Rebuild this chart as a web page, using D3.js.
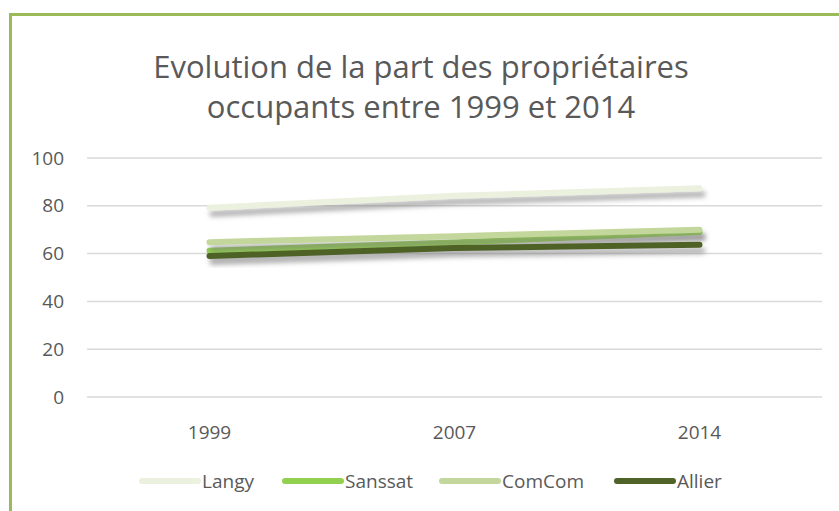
<!DOCTYPE html>
<html>
<head>
<meta charset="utf-8">
<script src="https://cdn.jsdelivr.net/npm/d3@7"></script>
<style>
  body { margin: 0; background: #fff; }
  text { font-family: "Open Sans", sans-serif; fill: #595959; }
</style>
</head>
<body>
<svg id="chart" width="839" height="511"></svg>
<script>
var years = ["1999", "2007", "2014"];
var seriesNames = ["Langy", "Sanssat", "ComCom", "Allier"];
var langy = [79.2, 84.2, 87.3];
var sanssat = [61.2, 64.6, 69.0];
var comcom = [64.8, 67.3, 70.0];
var allier = [59.0, 62.3, 63.7];
var yTicks = [0, 20, 40, 60, 80, 100];
var colors = ["#EBF1DE", "#92D050", "#C3D69B", "#4F6228"];

var allSeries = [langy, sanssat, comcom, allier];

var svg = d3.select("#chart");

// shadow filter
var defs = svg.append("defs");
var f = defs.append("filter").attr("id", "shadow")
    .attr("x", "-10%").attr("y", "-50%").attr("width", "130%").attr("height", "250%");
f.append("feOffset").attr("in", "SourceAlpha").attr("dx", 3).attr("dy", 6).attr("result", "off");
f.append("feGaussianBlur").attr("in", "off").attr("stdDeviation", 2.5).attr("result", "blur");
f.append("feFlood").attr("flood-color", "#7a7a7a").attr("flood-opacity", 0.6);
f.append("feComposite").attr("in2", "blur").attr("operator", "in").attr("result", "sh");
var m = f.append("feMerge");
m.append("feMergeNode").attr("in", "sh");
m.append("feMergeNode").attr("in", "SourceGraphic");

// frame
svg.append("line").attr("x1", 9).attr("x2", 839).attr("y1", 14.5).attr("y2", 14.5)
    .attr("stroke", "#9BBB59").attr("stroke-width", 3);
svg.append("line").attr("x1", 10.5).attr("x2", 10.5).attr("y1", 13).attr("y2", 511)
    .attr("stroke", "#9BBB59").attr("stroke-width", 3);

// title
var title = svg.append("text").attr("text-anchor", "middle").attr("font-size", 31);
title.append("tspan").attr("x", 421).attr("y", 78).text("Evolution de la part des propriétaires");
title.append("tspan").attr("x", 421).attr("y", 118).text("occupants entre 1999 et 2014");

var x = d3.scaleBand().domain(years).range([87, 822]);
var y = d3.scaleLinear().domain([0, 100]).range([397, 158]);

// grid
svg.append("g").selectAll("line").data(yTicks).enter().append("line")
    .attr("x1", 87).attr("x2", 822)
    .attr("y1", function (d) { return y(d); })
    .attr("y2", function (d) { return y(d); })
    .attr("stroke", "#D9D9D9").attr("stroke-width", 1.5);

// y labels
svg.append("g").selectAll("text").data(yTicks).enter().append("text")
    .attr("x", 64).attr("y", function (d) { return y(d); })
    .attr("dy", "0.35em").attr("text-anchor", "end").attr("font-size", 19)
    .text(function (d) { return d; });

// x labels
svg.append("g").selectAll("text").data(years).enter().append("text")
    .attr("x", function (d) { return x(d) + x.bandwidth() / 2; })
    .attr("y", 439).attr("text-anchor", "middle").attr("font-size", 19)
    .text(function (d) { return d; });

// lines
var line = d3.line()
    .x(function (d, i) { return x(years[i]) + x.bandwidth() / 2; })
    .y(function (d) { return y(d); });

svg.append("g").selectAll("path").data(allSeries).enter().append("path")
    .attr("d", line)
    .attr("fill", "none")
    .attr("stroke", function (d, i) { return colors[i]; })
    .attr("stroke-width", 6)
    .attr("stroke-linecap", "round")
    .attr("stroke-linejoin", "round")
    .attr("filter", "url(#shadow)");

// legend
var legX = [142, 285, 442, 617];
var leg = svg.append("g").selectAll("g").data(seriesNames).enter().append("g")
    .attr("transform", function (d, i) { return "translate(" + legX[i] + ",481)"; });
leg.append("line").attr("x1", 0).attr("x2", 56)
    .attr("stroke", function (d, i) { return colors[i]; })
    .attr("stroke-width", 6).attr("stroke-linecap", "round");
leg.append("text").attr("x", 60).attr("dy", "0.35em").attr("font-size", 19)
    .text(function (d) { return d; });
</script>
</body>
</html>
